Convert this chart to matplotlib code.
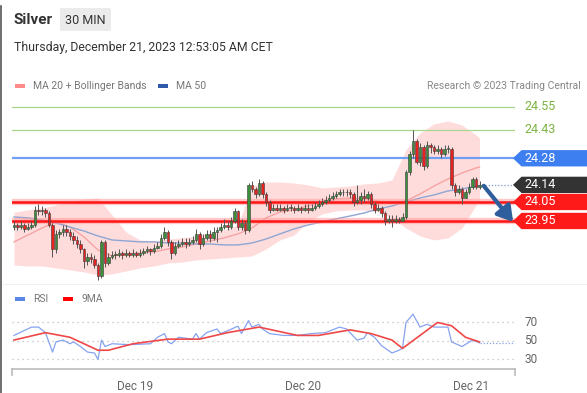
import matplotlib.pyplot as plt
import matplotlib.patches as mpatches
from matplotlib.lines import Line2D

plt.rcParams['font.family'] = ['Roboto', 'DejaVu Sans']

# --- price data (30 min bars) ---
closes = [23.93, 23.92, 23.93, 23.91, 23.92, 23.93, 24.01, 24.00, 24.01, 23.99,
          23.93, 23.80, 23.88, 23.89, 23.91, 23.89, 23.87, 23.85, 23.83, 23.80,
          23.74, 23.76, 23.75, 23.72, 23.66, 23.84, 23.73, 23.76, 23.77, 23.77,
          23.78, 23.77, 23.78, 23.77, 23.78, 23.77, 23.78, 23.79, 23.80, 23.79,
          23.81, 23.82, 23.86, 23.89, 23.84, 23.78, 23.82, 23.83, 23.84, 23.83,
          23.84, 23.85, 23.88, 23.83, 23.86, 23.88, 23.86, 23.89, 23.90, 23.92,
          23.93, 23.92, 23.95, 24.00, 23.92, 23.94, 23.90, 24.14, 24.12, 24.09,
          24.15, 24.09, 24.05, 24.01, 24.02, 24.01, 24.02, 24.01, 24.02, 24.02,
          24.01, 24.02, 24.01, 24.02, 24.01, 24.02, 24.03, 24.04, 24.05, 24.06,
          24.07, 24.08, 24.09, 24.10, 24.10, 24.10, 24.09, 24.05, 24.06, 24.08,
          24.07, 24.09, 24.04, 24.01, 24.02, 23.99, 23.95, 23.96, 23.95, 23.96,
          23.95, 23.97, 24.21, 24.30, 24.37, 24.26, 24.34, 24.24, 24.35, 24.34,
          24.32, 24.33, 24.30, 24.33, 24.33, 24.14, 24.10, 24.12, 24.07, 24.10,
          24.13, 24.17, 24.13, 24.14]
highs = [23.95, 23.94, 23.95, 23.94, 23.94, 23.95, 24.03, 24.04, 24.03, 24.02,
         24.00, 23.94, 23.90, 23.91, 23.93, 23.93, 23.91, 23.89, 23.87, 23.85,
         23.81, 23.78, 23.78, 23.77, 23.73, 23.85, 23.85, 23.78, 23.79, 23.79,
         23.80, 23.79, 23.80, 23.79, 23.80, 23.79, 23.80, 23.81, 23.82, 23.81,
         23.83, 23.84, 23.88, 23.92, 23.90, 23.85, 23.84, 23.85, 23.86, 23.86,
         23.86, 23.87, 23.91, 23.89, 23.88, 23.90, 23.90, 23.92, 23.92, 23.94,
         23.96, 23.95, 23.97, 24.02, 24.01, 23.96, 23.95, 24.15, 24.16, 24.13,
         24.17, 24.16, 24.10, 24.06, 24.04, 24.04, 24.04, 24.03, 24.04, 24.04,
         24.03, 24.04, 24.03, 24.04, 24.04, 24.04, 24.05, 24.06, 24.07, 24.08,
         24.09, 24.10, 24.11, 24.12, 24.12, 24.12, 24.12, 24.10, 24.14, 24.10,
         24.12, 24.11, 24.10, 24.05, 24.04, 24.03, 24.00, 23.98, 23.98, 23.98,
         23.97, 23.99, 24.22, 24.32, 24.43, 24.38, 24.36, 24.35, 24.37, 24.36,
         24.35, 24.35, 24.34, 24.35, 24.35, 24.34, 24.15, 24.14, 24.13, 24.12,
         24.15, 24.18, 24.18, 24.16]
lows = [23.90, 23.90, 23.91, 23.89, 23.90, 23.91, 23.92, 23.98, 23.98, 23.97,
        23.92, 23.76, 23.78, 23.86, 23.87, 23.87, 23.85, 23.83, 23.81, 23.78,
        23.70, 23.72, 23.73, 23.70, 23.64, 23.65, 23.71, 23.72, 23.75, 23.75,
        23.76, 23.75, 23.76, 23.76, 23.76, 23.76, 23.76, 23.77, 23.78, 23.77,
        23.78, 23.80, 23.81, 23.85, 23.82, 23.75, 23.77, 23.81, 23.82, 23.81,
        23.82, 23.83, 23.84, 23.80, 23.82, 23.85, 23.84, 23.85, 23.84, 23.89,
        23.91, 23.90, 23.91, 23.94, 23.90, 23.90, 23.88, 23.89, 24.10, 24.07,
        24.08, 24.07, 24.03, 23.99, 24.00, 24.00, 24.00, 23.99, 24.00, 24.00,
        23.99, 24.00, 23.99, 24.00, 23.99, 24.00, 24.01, 24.02, 24.03, 24.04,
        24.05, 24.06, 24.07, 24.08, 24.08, 24.08, 24.07, 24.03, 24.04, 24.04,
        24.05, 24.06, 24.02, 23.99, 24.00, 23.97, 23.93, 23.94, 23.92, 23.94,
        23.94, 23.95, 23.96, 24.19, 24.28, 24.25, 24.24, 24.22, 24.23, 24.31,
        24.30, 24.30, 24.28, 24.29, 24.31, 24.12, 24.08, 24.09, 24.04, 24.07,
        24.09, 24.12, 24.12, 24.12]
first_open = 23.92
opens = [first_open] + closes[:-1]

# --- indicators ---
ind_bars = [0, 4, 8, 12, 16, 20, 24, 28, 32, 36, 40, 44, 48, 52, 56, 60, 64,
            68, 72, 76, 80, 84, 88, 92, 96, 100, 104, 108, 112, 116, 120, 124,
            128, 132, 133]
ma20 = [23.84, 23.876, 23.913, 23.945, 23.918, 23.866, 23.797, 23.766, 23.776,
        23.782, 23.787, 23.803, 23.813, 23.829, 23.845, 23.861, 23.882, 23.913,
        23.966, 23.997, 24.008, 24.029, 24.05, 24.066, 24.071, 24.066, 24.055,
        24.045, 24.055, 24.092, 24.134, 24.171, 24.203, 24.229, 24.234]
ma50 = [23.971, 23.966, 23.955, 23.939, 23.918, 23.897, 23.871, 23.85, 23.845,
        23.84, 23.84, 23.834, 23.834, 23.829, 23.829, 23.824, 23.824, 23.834,
        23.855, 23.882, 23.908, 23.929, 23.945, 23.961, 23.976, 23.992, 24.013,
        24.029, 24.05, 24.071, 24.087, 24.108, 24.118, 24.134, 24.135]
bb_upper = [23.997, 24.008, 24.018, 24.034, 24.05, 24.066, 24.071, 23.982,
            23.892, 23.85, 23.845, 23.855, 23.861, 23.871, 23.887, 23.903,
            23.929, 24.134, 24.155, 24.155, 24.15, 24.14, 24.124, 24.129,
            24.134, 24.145, 24.15, 24.166, 24.324, 24.413, 24.461, 24.476,
            24.455, 24.403, 24.387]
bb_lower = [23.718, 23.713, 23.713, 23.703, 23.692, 23.682, 23.666, 23.671,
            23.687, 23.703, 23.713, 23.729, 23.734, 23.745, 23.75, 23.755,
            23.76, 23.766, 23.803, 23.85, 23.876, 23.945, 23.987, 24.003,
            24.008, 24.008, 23.997, 23.966, 23.913, 23.871, 23.85, 23.861,
            23.913, 24.034, 24.06]

rsi_bars = [0, 5, 7, 9, 11, 12, 14, 16, 17, 19, 21, 23, 24, 25, 26, 28, 33, 39,
            41, 43, 44, 45, 47, 51, 52, 53, 55, 58, 59, 61, 64, 65, 67, 68, 70,
            71, 73, 77, 81, 85, 89, 93, 95, 98, 100, 101, 103, 105, 108, 110,
            111, 112, 114, 116, 118, 120, 124, 125, 128, 131, 133]
rsi_vals = [56, 65, 65, 59, 38, 49, 51, 47, 49, 44, 38, 37, 30, 51, 44, 47, 46,
            47, 54, 58, 49, 47, 54, 52, 58, 52, 59, 63, 58, 61, 66, 58, 72, 65,
            68, 63, 58, 56, 56, 58, 59, 65, 63, 51, 53, 59, 54, 45, 37, 40, 42,
            70, 79, 65, 68, 65, 65, 49, 44, 51, 48]
rsi_ma_bars = [0, 9, 16, 24, 27, 34, 44, 53, 61, 70, 81, 87, 96, 102, 108, 111,
               121, 125, 129, 133]
rsi_ma_vals = [51, 59, 54, 40, 40, 47, 52, 52, 59, 65, 56, 56, 62, 58, 51, 42,
               70, 66.5, 54, 49]
rsi_grid = [30, 50, 70]

levels = [24.55, 24.43, 24.28, 24.14, 24.05, 23.95]
level_styles = ['target', 'target', 'pivot', 'last', 'support', 'support']

date_ticks = [34.5, 82.5, 130.5]
date_labels = ['Dec 19', 'Dec 20', 'Dec 21']

W, H = 587, 393
GREEN = '#3b8f3b'
RED = '#e8231f'


def fx(px):
    return px / W


def fy(py):
    return 1 - py / H


fig = plt.figure(figsize=(W / 100, H / 100), dpi=100)
fig.patch.set_facecolor('white')

# header
fig.text(fx(13), fy(20), 'Silver', fontsize=11, fontweight='bold', color='#333333', va='center')
fig.patches.append(mpatches.FancyBboxPatch((fx(60), fy(31)), fx(51), 23 / H,
                                           boxstyle='round,pad=0,rounding_size=0.004',
                                           transform=fig.transFigure, fc='#ebebeb', ec='none'))
fig.text(fx(85.5), fy(20), '30 MIN', fontsize=9, color='#333333', va='center', ha='center')
fig.text(fx(14), fy(48), 'Thursday, December 21, 2023 12:53:05 AM CET', fontsize=8.8,
         color='#333333', va='center')

# legends
fig.patches.append(mpatches.Rectangle((fx(15), fy(88)), fx(10), 4 / H, transform=fig.transFigure,
                                      fc='#ff8a8a', ec='none'))
fig.text(fx(33), fy(86), 'MA 20 + Bollinger Bands', fontsize=7.5, color='#777777', va='center')
fig.patches.append(mpatches.Rectangle((fx(158), fy(88)), fx(10), 4 / H, transform=fig.transFigure,
                                      fc='#2f5aa8', ec='none'))
fig.text(fx(176), fy(86), 'MA 50', fontsize=7.5, color='#777777', va='center')
fig.text(fx(581), fy(86), 'Research \u00a9 2023 Trading Central', fontsize=7.5, color='#888888',
         va='center', ha='right')

fig.patches.append(mpatches.Rectangle((fx(15), fy(301)), fx(10), 4 / H, transform=fig.transFigure,
                                      fc='#5b87e8', ec='none'))
fig.text(fx(33), fy(299), 'RSI', fontsize=7.5, color='#777777', va='center')
fig.patches.append(mpatches.Rectangle((fx(63), fy(301)), fx(10), 4 / H, transform=fig.transFigure,
                                      fc='#ff0000', ec='none'))
fig.text(fx(81), fy(299), '9MA', fontsize=7.5, color='#777777', va='center')

# frame bits
fig.add_artist(Line2D([fx(1), fx(1)], [fy(6), fy(393)], color='#555555', lw=1.2))
fig.add_artist(Line2D([fx(3), fx(587)], [fy(284), fy(284)], color='#f0f0f0', lw=0.8))

# --- main price panel ---
ax = fig.add_axes([fx(12), fy(285), 503 / W, 190 / H])
xmin, xmax = -0.57, 143.14
ax.set_xlim(xmin, xmax)
ax.set_ylim(23.613, 24.613)
ax.axis('off')

ax.fill_between(ind_bars, bb_lower, bb_upper, color='#ffdcdc', lw=0, zorder=1)
ax.plot(ind_bars, ma20, color='#f5a3a3', lw=1, zorder=2)
ax.plot(ind_bars, ma50, color='#8ea6d3', lw=1, zorder=2)

for lvl, kind in zip(levels, level_styles):
    if kind == 'target':
        ax.axhline(lvl, color='#a8d58f', lw=0.9, zorder=3)
    elif kind == 'pivot':
        ax.axhline(lvl, color='#6f9ef2', lw=1.6, zorder=3)
    elif kind == 'support':
        ax.axhline(lvl, color='#ff9a9a', lw=4.5, alpha=0.55, zorder=3)
        ax.axhline(lvl, color='#ff1414', lw=1.8, zorder=3)

idx = list(range(len(closes)))
for i in idx:
    o, c = opens[i], closes[i]
    col = GREEN if c >= o else RED
    ax.vlines(i, lows[i], highs[i], color='#555555', lw=0.7, zorder=4)
    body = max(abs(c - o), 0.004)
    ax.bar(i, body, bottom=min(o, c), width=0.72, color=col, edgecolor='#3a3a3a',
           lw=0.4, zorder=5)

# last price dotted line
ax.plot([idx[-1] + 0.8, xmax], [closes[-1], closes[-1]], ls=(0, (1, 1.5)), color='#7f9cc9',
        lw=0.9, zorder=3)


def tag(y, text, face):
    tr = ax.get_yaxis_transform()
    h = 0.043
    tip, start, end = 0.996, 1.013, 1.16
    poly = mpatches.Polygon([(tip, y), (start, y + h), (end, y + h), (end, y - h), (start, y - h)],
                            closed=True, transform=tr, fc=face, ec='none', clip_on=False, zorder=6)
    ax.add_patch(poly)
    ax.text(1.019, y, text, transform=tr, fontsize=9, color='white', va='center', ha='left',
            clip_on=False, zorder=7)


for lvl, kind in zip(levels, level_styles):
    label = f'{lvl:.2f}'
    if kind == 'target':
        ax.text(1.019, lvl, label, transform=ax.get_yaxis_transform(), fontsize=9,
                color='#7cb342', va='center', ha='left', clip_on=False)
    elif kind == 'pivot':
        tag(lvl, label, '#3d7ff0')
    elif kind == 'last':
        tag(lvl, label, '#333333')
    else:
        tag(lvl, label, '#ff1a1a')

ax.annotate('', xy=(142.6, levels[-1] - 0.005), xytext=(idx[-1] + 1.2, closes[-1] - 0.005),
            arrowprops=dict(arrowstyle='-|>,head_length=0.9,head_width=0.55', lw=3,
                            color='#2e5e9c', shrinkA=0, shrinkB=0), zorder=8)

# --- RSI panel ---
ax2 = fig.add_axes([fx(12), fy(369), 503 / W, 69 / H])
ax2.set_xlim(xmin, xmax)
ax2.set_ylim(19.7, 94.3)
for g in rsi_grid:
    ax2.axhline(g, color='#bdbdbd', lw=0.9, ls=(0, (1, 3)))
    ax2.text(1.019, g, str(g), transform=ax2.get_yaxis_transform(), fontsize=8.5,
             color='#666666', va='center', ha='left', clip_on=False)
ax2.plot(rsi_bars, rsi_vals, color='#86a3f0', lw=0.9, zorder=3)
ax2.plot(rsi_ma_bars, rsi_ma_vals, color='#f04848', lw=1.2, zorder=4)
ax2.plot([rsi_bars[-1], xmax], [rsi_vals[-1], rsi_vals[-1]], ls=(0, (1, 1.5)), color='#86a3f0',
         lw=0.9)

for s in ['top', 'left', 'right']:
    ax2.spines[s].set_visible(False)
ax2.spines['bottom'].set_color('#bbbbbb')
ax2.spines['bottom'].set_linewidth(1.2)
ax2.set_yticks([])
ax2.set_xticks(date_ticks)
ax2.set_xticklabels(date_labels, fontsize=8.5, color='#666666')
ax2.tick_params(axis='x', length=0, pad=8)
for xe in [0, 1]:
    ax2.plot([xe, xe], [0, -0.08], transform=ax2.transAxes, color='#bbbbbb', lw=1.2,
             clip_on=False)

fig.savefig('out.png', dpi=100)
